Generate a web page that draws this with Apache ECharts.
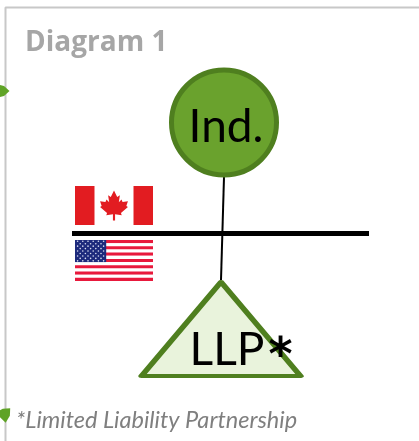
<!DOCTYPE html>
<html>
<head>
<meta charset="utf-8">
<style>
  html, body { margin: 0; padding: 0; background: #fff; }
  #chart { width: 419px; height: 441px; }
</style>
<script src="https://cdn.jsdelivr.net/npm/echarts@6/dist/echarts.min.js"></script>
</head>
<body>
<div id="chart"></div>
<script>
const titleText = 'Diagram 1'
const footnoteText = '*Limited Liability Partnership'
const nodeLabels = ['Ind.', 'LLP']
const nodeCentres = [[224, 122.5], [221, 329]]
const connector = [[224, 177], [221, 280]]
const border = [[5.5, 441], [5.5, 7.5], [419, 7.5]]
const divider = [[72, 233.5], [369, 233.5]]
const arrowTips = [[0, 91, 0], [3.5, 415, 45]]
const canadaBox = [75, 186, 153, 225]
const usaBox = [75, 240, 153, 281]
const usaStripes = 13

const leafPath = 'M0,-14 L3,-8 L5.5,-9.5 L4.5,-3 L7,-5.5 L8,-3.2 L13,-4 L11.5,0.5 L13,1.5 L6.5,7 L7.2,9 L1,8.2 L1,14 L-1,14 L-1,8.2 L-7.2,9 L-6.5,7 L-13,1.5 L-11.5,0.5 L-13,-4 L-8,-3.2 L-7,-5.5 L-4.5,-3 L-5.5,-9.5 L-3,-8 Z'

const chart = echarts.init(document.getElementById('chart'), null, { renderer: 'canvas' })

function boxShape(api, box) {
  const a = api.coord([box[0], box[1]])
  const b = api.coord([box[2], box[3]])
  return { x: a[0], y: a[1], width: b[0] - a[0], height: b[1] - a[1] }
}

function renderFlags(params, api) {
  const children = []
  const ca = boxShape(api, canadaBox)
  const band = ca.width / 4
  children.push({ type: 'rect', shape: ca, style: { fill: '#ffffff' } })
  children.push({ type: 'rect', shape: { x: ca.x, y: ca.y, width: band, height: ca.height }, style: { fill: '#e21c21' } })
  children.push({ type: 'rect', shape: { x: ca.x + ca.width - band, y: ca.y, width: band, height: ca.height }, style: { fill: '#e21c21' } })
  children.push({
    type: 'path',
    shape: {
      pathData: leafPath,
      x: ca.x + ca.width / 2 - 15,
      y: ca.y + ca.height / 2 - 15,
      width: 30,
      height: 30,
      layout: 'center'
    },
    style: { fill: '#e21c21' }
  })

  const us = boxShape(api, usaBox)
  const stripe = us.height / usaStripes
  for (let i = 0; i < usaStripes; i++) {
    children.push({
      type: 'rect',
      shape: { x: us.x, y: us.y + i * stripe, width: us.width, height: stripe },
      style: { fill: i % 2 === 0 ? '#e8193c' : '#ffffff' }
    })
  }
  const cantonW = us.width * 0.4
  const cantonH = stripe * 7
  children.push({ type: 'rect', shape: { x: us.x, y: us.y, width: cantonW, height: cantonH }, style: { fill: '#1d2a7c' } })
  for (let r = 0; r < 9; r++) {
    const cols = r % 2 === 0 ? 6 : 5
    for (let c = 0; c < cols; c++) {
      children.push({
        type: 'circle',
        shape: {
          cx: us.x + cantonW * ((c + (r % 2 === 0 ? 0.5 : 1)) / 6),
          cy: us.y + cantonH * ((r + 0.5) / 9),
          r: 0.8
        },
        style: { fill: '#d8dcf0' }
      })
    }
  }
  return { type: 'group', children: children }
}

function renderArrows(params, api) {
  const p = api.coord([api.value(0), api.value(1)])
  return {
    type: 'polygon',
    x: p[0],
    y: p[1],
    rotation: api.value(2) * Math.PI / 180,
    shape: {
      points: [[-4, -7], [4, -5], [9.5, 0], [4, 5], [-4, 7]]
    },
    style: { fill: '#5fa326' }
  }
}

chart.setOption({
  animation: false,
  backgroundColor: '#ffffff',
  grid: { left: 0, right: 0, top: 0, bottom: 0 },
  xAxis: { type: 'value', min: 0, max: 419, show: false },
  yAxis: { type: 'value', min: 0, max: 441, inverse: true, show: false },
  title: [
    {
      text: titleText,
      left: 20,
      top: 24,
      textStyle: { color: '#a6a6a6', fontFamily: 'Open Sans', fontSize: 28, fontWeight: 'bold' }
    },
    {
      text: footnoteText,
      left: 11,
      top: 404,
      textStyle: { color: '#7f7f7f', fontFamily: 'Lato', fontSize: 23.5, fontStyle: 'italic', fontWeight: 'normal' }
    }
  ],
  series: [
    {
      type: 'line',
      data: border,
      symbol: 'none',
      silent: true,
      lineStyle: { color: '#c8c8c8', width: 2 }
    },
    {
      type: 'line',
      data: connector,
      symbol: 'none',
      silent: true,
      lineStyle: { color: '#000000', width: 2 }
    },
    {
      type: 'line',
      data: divider,
      symbol: 'none',
      silent: true,
      lineStyle: { color: '#000000', width: 5, cap: 'butt' }
    },
    {
      type: 'custom',
      data: [0],
      renderItem: renderFlags,
      silent: true
    },
    {
      type: 'custom',
      data: arrowTips,
      renderItem: renderArrows,
      silent: true,
      clip: false,
      z: 4
    },
    {
      type: 'scatter',
      silent: true,
      z: 5,
      data: [
        {
          value: nodeCentres[0],
          symbol: 'circle',
          symbolSize: 105,
          itemStyle: { color: '#6aa22d', borderColor: '#4f7f1f', borderWidth: 5, opacity: 1 },
          label: { formatter: nodeLabels[0], offset: [2, 5] }
        },
        {
          value: nodeCentres[1],
          symbol: 'path://M50,0 L100,100 L0,100 Z',
          symbolSize: [159, 94],
          itemStyle: { color: '#e9f3dc', borderColor: '#4f7f1f', borderWidth: 5, borderJoin: 'round', opacity: 1 },
          label: {
            formatter: '{a|' + nodeLabels[1] + '}{b|*}',
            offset: [20, 21],
            rich: {
              a: { fontFamily: 'Lato', fontSize: 46, color: '#000000' },
              b: { fontFamily: 'DejaVu Sans', fontSize: 46, fontWeight: 'bold', color: '#000000', padding: [16, 0, 0, 4] }
            }
          }
        }
      ],
      label: {
        show: true,
        position: 'inside',
        color: '#000000',
        fontFamily: 'Lato',
        fontSize: 46
      }
    }
  ]
})
</script>
</body>
</html>
